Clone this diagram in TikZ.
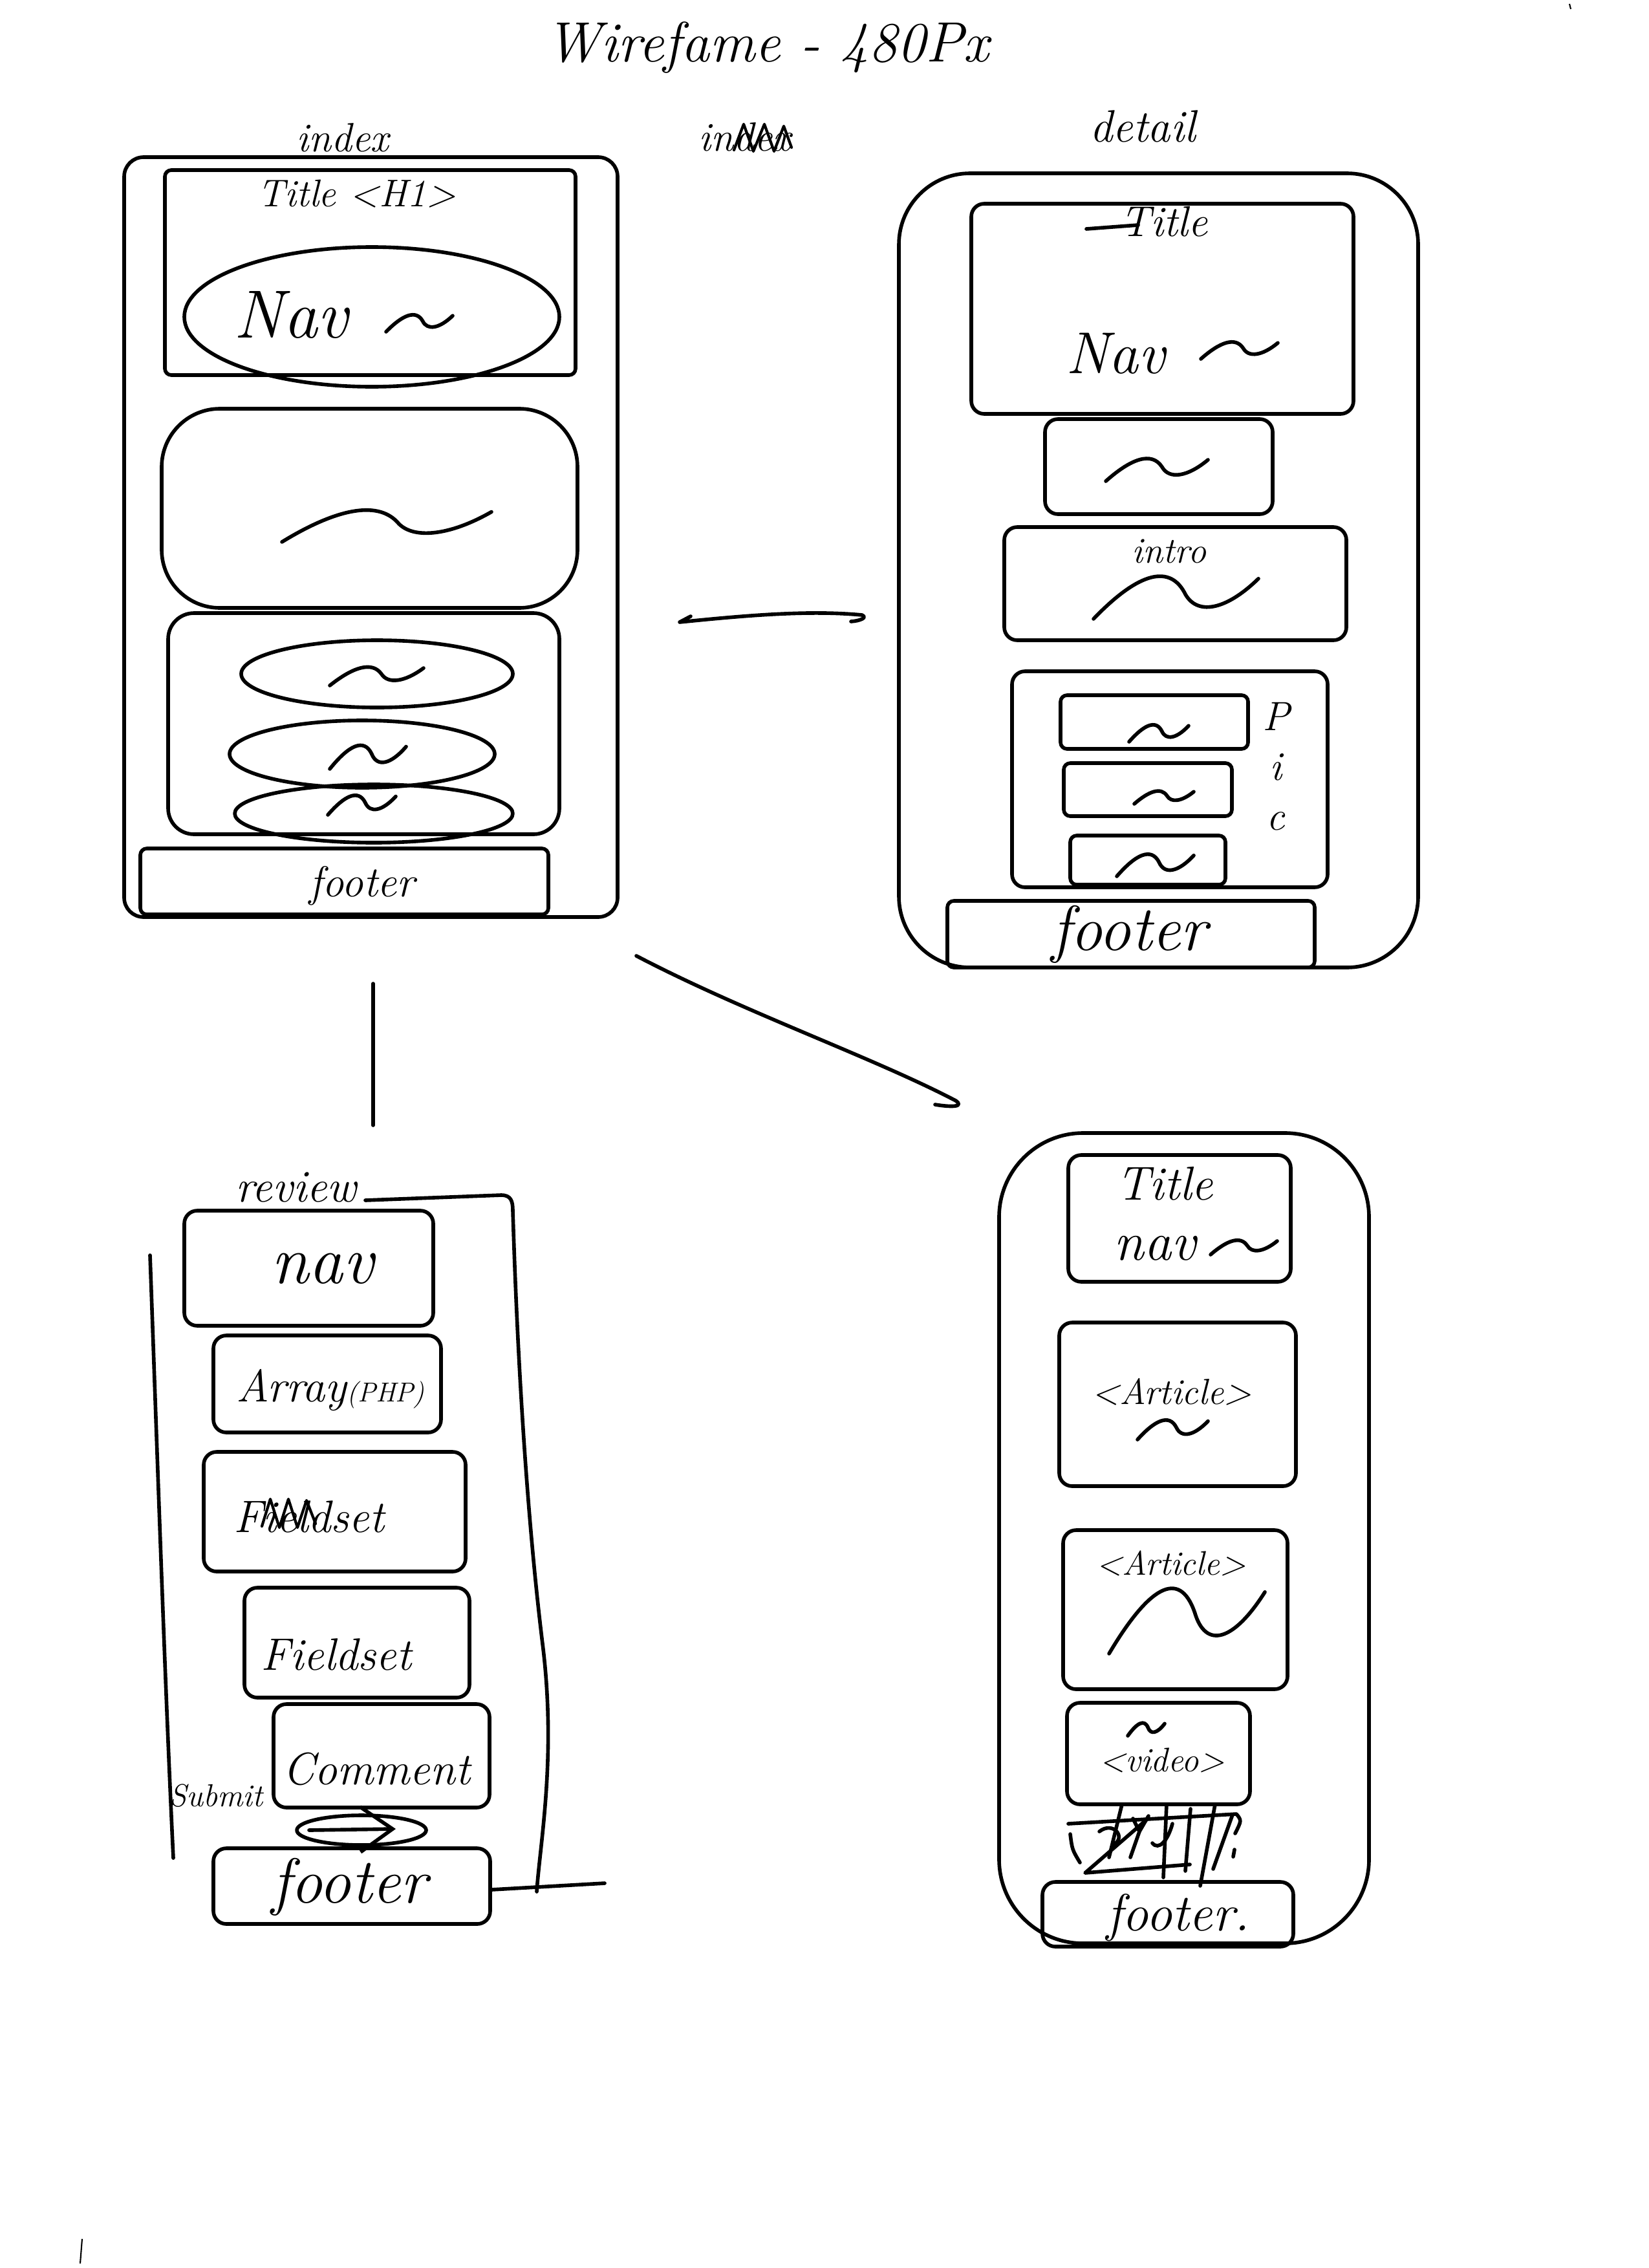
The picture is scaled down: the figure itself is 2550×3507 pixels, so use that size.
\documentclass[tikz,border=0pt]{standalone}
\usetikzlibrary{fit,shapes.geometric,arrows.meta}
\newcommand\hfs[1]{\fontsize{#1}{#1}\selectfont}
\newcommand\squig[4]{\draw[ink,shift={(#1,#2)},xscale=#3,yscale=#4] (0,1) .. controls (0.25,0.2) and (0.45,-0.05) .. (0.55,0.5) .. controls (0.62,0.95) and (0.8,0.85) .. (1,0.25);}
\begin{document}
\begin{tikzpicture}[x=0.1mm,y=-0.1mm,
  ink/.style={line width=1.6pt,line cap=round,line join=round},
  wbox/.style={ink,draw,inner sep=0pt,rounded corners=2.5mm},
  wellipse/.style={ink,draw,ellipse,inner sep=0pt},
  txt/.style={inner sep=0pt,font=\itshape\hfs{#1}},
  scan/.style={line width=0.6pt}]
\fill[white] (0,0) rectangle (2550,3507);
\useasboundingbox (0,0) rectangle (2550,3507);

% ---------- heading ----------
\node[txt=25] (heading) at (1186,74) {Wirefame - 480Px};
\node[txt=18] (indexlbl) at (530,213) {index};
\node[txt=18] (crossed) at (1152,212) {index};
\draw[ink,line width=1.2pt] (1135,232) -- (1150,192) -- (1165,234) -- (1182,192) -- (1197,234) -- (1212,195) -- (1224,228);
\node[txt=20] (detaillbl) at (1767,195) {detail};

% ---------- index page ----------
\node[wbox,rounded corners=3mm,fit={(192,243) (955,1418)}] (index) {};
\node[wbox,rounded corners=1mm,fit={(255,263) (890,580)}] (indextitle) {};
\node[txt=17] (indexh1) at (552,300) {Title \textless H1\textgreater};
\node[wellipse,minimum width=58mm,minimum height=21.6mm] (indexnav) at (575,490) {};
\node[txt=30] (indexnavt) at (450,487) {Nav};
\squig{597}{480}{103}{33}
\node[wbox,rounded corners=9mm,fit={(250,632) (893,940)}] (indexhero) {};
\squig{436}{776}{324}{62}
\node[wbox,rounded corners=4mm,fit={(260,948) (865,1290)}] (indexlist) {};
\node[wellipse,minimum width=42mm,minimum height=10.4mm] (item1) at (583,1042) {};
\node[wellipse,minimum width=41mm,minimum height=10.4mm] (item2) at (560,1166) {};
\node[wellipse,minimum width=43mm,minimum height=9mm] (item3) at (578,1258) {};
\squig{510}{1024}{145}{36}
\squig{510}{1143}{118}{46}
\squig{507}{1222}{105}{38}
\node[wbox,rounded corners=1mm,fit={(217,1312) (848,1414)}] (indexfoot) {};
\node[txt=19] (indexfoott) at (560,1370) {footer};

% ---------- detail page ----------
\node[wbox,rounded corners=11mm,fit={(1390,268) (2193,1496)}] (detail) {};
\node[wbox,rounded corners=2mm,fit={(1502,315) (2093,640)}] (dtitle) {};
\node[txt=19] (dtitlet) at (1800,343) {Title};
\draw[ink] (1680,354) -- (1760,348);
\node[txt=26] (dnavt) at (1725,547) {Nav};
\squig{1857}{522}{119}{33}
\node[wbox,rounded corners=2mm,fit={(1616,648) (1968,795)}] (dsmall) {};
\squig{1710}{700}{158}{44}
\node[wbox,rounded corners=2mm,fit={(1553,815) (2082,990)}] (dintro) {};
\node[txt=16] (dintrot) at (1808,852) {intro};
\squig{1691}{874}{255}{83}
\node[wbox,rounded corners=2mm,fit={(1565,1038) (2053,1372)}] (dpic) {};
\node[wbox,rounded corners=1mm,fit={(1640,1075) (1930,1158)}] (dpic1) {};
\node[wbox,rounded corners=1mm,fit={(1645,1180) (1905,1262)}] (dpic2) {};
\node[wbox,rounded corners=1mm,fit={(1655,1292) (1895,1368)}] (dpic3) {};
\squig{1746}{1114}{92}{33}
\squig{1754}{1218}{92}{25}
\squig{1727}{1312}{119}{43}
\node[txt=18] (picP) at (1973,1108) {P};
\node[txt=18] (picI) at (1973,1186) {i};
\node[txt=18] (picC) at (1973,1270) {c};
\node[wbox,rounded corners=1mm,fit={(1465,1393) (2033,1496)}] (dfoot) {};
\node[txt=28] (dfoott) at (1746,1445) {footer};

% ---------- connectors ----------
\coordinate (ca1) at (1051,962);
\coordinate (ca2) at (1333,951);
\draw[ink] (1068,953) -- (ca1) .. controls (1150,952) and (1250,943) .. (ca2) .. controls (1342,955) and (1330,960) .. (1316,961);
\coordinate (cb1) at (577,1521);
\coordinate (cb2) at (577,1740);
\draw[ink] (cb1) -- (cb2);
\coordinate (cc1) at (984,1478);
\coordinate (cc2) at (1478,1702);
\draw[ink] (cc1) .. controls (1150,1565) and (1350,1635) .. (cc2) .. controls (1492,1712) and (1470,1712) .. (1446,1708);

% ---------- review page ----------
\node[txt=20] (reviewlbl) at (458,1836) {review};
\draw[ink] (232,1941) .. controls (245,2300) and (255,2600) .. (268,2873);
\draw[ink] (565,1856) -- (775,1848) .. controls (790,1848) and (793,1857) .. (793,1872)
  .. controls (800,2100) and (815,2350) .. (840,2550) .. controls (860,2720) and (835,2850) .. (830,2925);
\draw[ink] (760,2922) -- (935,2912);
\node[wbox,rounded corners=2mm,fit={(285,1872) (670,2050)}] (rnav) {};
\node[txt=30] (rnavt) at (499,1962) {nav};
\node[wbox,rounded corners=2mm,fit={(330,2065) (682,2215)}] (rarray) {};
\node[txt=20] (rarrayt) at (511,2150) {Array\hfs{12}(PHP)};
\node[wbox,rounded corners=2mm,fit={(315,2245) (720,2430)}] (rfield1) {};
\node[txt=20] (rfield1t) at (478,2345) {Fieldset};
\draw[ink,line width=1.2pt] (405,2360) -- (418,2318) -- (432,2362) -- (446,2318) -- (460,2362) -- (474,2320) -- (488,2356);
\node[wbox,rounded corners=2mm,fit={(378,2455) (726,2625)}] (rfield2) {};
\node[txt=20] (rfield2t) at (520,2558) {Fieldset};
\node[wbox,rounded corners=2mm,fit={(423,2635) (757,2795)}] (rcomment) {};
\node[txt=20] (rcommentt) at (582,2735) {Comment};
\node[txt=14] (rsubmit) at (334,2777) {Submit};
\node[wellipse,minimum width=20mm,minimum height=4.6mm] (rbtn) at (559,2830) {};
\draw[ink,-{Straight Barb[length=5mm,width=7mm]}] (478,2830) -- (612,2828);
\node[wbox,rounded corners=2mm,fit={(330,2858) (758,2975)}] (rfoot) {};
\node[txt=28] (rfoott) at (540,2918) {footer};

% ---------- article page ----------
\node[wbox,rounded corners=13mm,fit={(1545,1752) (2117,3005)}] (article) {};
\node[wbox,rounded corners=2mm,fit={(1652,1786) (1996,1982)}] (atitle) {};
\node[txt=21] (atitlet) at (1801,1830) {Title};
\node[txt=24] (anavt) at (1786,1930) {nav};
\squig{1872}{1912}{103}{28}
\node[wbox,rounded corners=2mm,fit={(1638,2045) (2004,2298)}] (aart1) {};
\node[txt=16] (aart1t) at (1812,2152) {\textless Article\textgreater};
\squig{1759}{2188}{109}{38}
\node[wbox,rounded corners=2mm,fit={(1644,2366) (1991,2612)}] (aart2) {};
\node[txt=15] (aart2t) at (1811,2417) {\textless Article\textgreater};
\squig{1715}{2430}{241}{127}
\node[wbox,rounded corners=2mm,fit={(1650,2633) (1933,2790)}] (avideo) {};
\node[txt=15] (avideot) at (1797,2722) {\textless video\textgreater};
\squig{1744}{2659}{57}{25}
% scribbled strip
\draw[ink] (1652,2820) -- (1912,2805) .. controls (1920,2815) .. (1910,2835);
\draw[ink] (1655,2836) .. controls (1658,2860) .. (1670,2880);
\draw[ink] (1775,2812) -- (1678,2896) -- (1840,2883);
\draw[ink] (1735,2790) -- (1715,2872);
\draw[ink] (1700,2832) .. controls (1722,2815) and (1742,2842) .. (1722,2852);
\draw[ink] (1752,2812) -- (1762,2832) -- (1776,2808);
\draw[ink] (1762,2832) -- (1748,2872);
\draw[ink] (1804,2790) -- (1799,2903);
\draw[ink] (1782,2850) .. controls (1792,2862) and (1806,2846) .. (1813,2820);
\draw[ink] (1841,2797) -- (1833,2893);
\draw[ink] (1879,2790) -- (1856,2916);
\draw[ink] (1906,2806) -- (1876,2890);
\draw[ink] (1909,2860) -- (1907,2871);
\node[wbox,rounded corners=2mm,fit={(1612,2910) (2000,3010)}] (afoot) {};
\node[txt=23] (afoott) at (1822,2965) {footer.};

% ---------- scanner marks ----------
\draw[scan] (2427,6) -- (2429,14);
\draw[scan] (127,3462) -- (124,3500);
\end{tikzpicture}
\end{document}
